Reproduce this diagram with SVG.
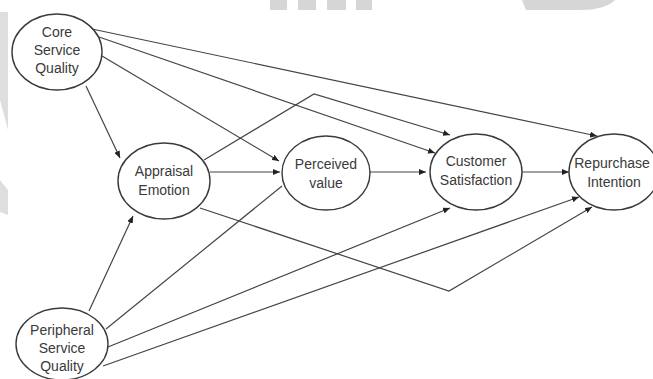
<svg xmlns="http://www.w3.org/2000/svg" width="653" height="379" viewBox="0 0 653 379">
<style>
.node ellipse{fill:#fff;stroke:#3a3a3a;stroke-width:1.4}
.node text{font-family:"Liberation Sans",Arial,sans-serif;font-size:14px;fill:#3a3a3a;text-anchor:middle}
.edges path{fill:none;stroke:#444;stroke-width:1.2;marker-end:url(#ah)}
.edges path.plain{marker-end:none}
.wm{fill:#d6d6d6}
</style>
<defs>
<marker id="ah" markerUnits="userSpaceOnUse" markerWidth="8" markerHeight="6" refX="7" refY="3" orient="auto">
<path d="M0,0 L7,3 L0,6 z" fill="#222"/>
</marker>
</defs>
<rect width="653" height="379" fill="#fff"/>
<g id="watermark">
<rect class="wm" x="270" y="0" width="17" height="10"/>
<rect class="wm" x="298" y="0" width="18" height="10"/>
<rect class="wm" x="327" y="0" width="19" height="10"/>
<rect class="wm" x="356" y="0" width="16" height="10"/>
<path class="wm" d="M522,0 L615,0 Q605,10 580,10 L526,10 Z"/>
<path class="wm" d="M0,12 L8,12 L8,130 L0,100 Z" opacity="0.8"/>
<path class="wm" d="M0,180 L8,190 L8,215 L0,212 Z" opacity="0.8"/>
</g>
<g class="edges" id="connectors">
<path d="M86,86 L120,158"/>
<path d="M102,56 L279,161"/>
<path d="M99,37 L435,153"/>
<path d="M92,29 L597,136"/>
<path d="M210,172 L280,172"/>
<path d="M204,160 L314,94 L450,135"/>
<path d="M200,208 L449,291 L592,207"/>
<path d="M370,172 L426,172"/>
<path d="M522,172 L569,172"/>
<path d="M89,311 L133,216"/>
<path class="plain" d="M106,329 L282,186"/>
<path d="M108,347 L450,208"/>
<path d="M103,366 L579,197"/>
</g>
<g class="node" id="core">
<ellipse cx="57" cy="52" rx="45" ry="38"/>
<text x="57" y="37">Core</text>
<text x="57" y="55">Service</text>
<text x="57" y="73">Quality</text>
</g>
<g class="node" id="appraisal">
<ellipse cx="164" cy="181" rx="46" ry="38"/>
<text x="164" y="176">Appraisal</text>
<text x="164" y="195">Emotion</text>
</g>
<g class="node" id="perceived">
<ellipse cx="326" cy="173" rx="44" ry="37"/>
<text x="326" y="169">Perceived</text>
<text x="326" y="188">value</text>
</g>
<g class="node" id="satisfaction">
<ellipse cx="476" cy="172" rx="46" ry="38"/>
<text x="476" y="166">Customer</text>
<text x="476" y="185">Satisfaction</text>
</g>
<g class="node" id="repurchase">
<ellipse cx="614" cy="172" rx="45" ry="38"/>
<text x="612" y="168">Repurchase</text>
<text x="614" y="187">Intention</text>
</g>
<g class="node" id="peripheral">
<ellipse cx="62" cy="344" rx="46" ry="36"/>
<text x="62" y="335">Peripheral</text>
<text x="62" y="353">Service</text>
<text x="62" y="371">Quality</text>
</g>
</svg>
